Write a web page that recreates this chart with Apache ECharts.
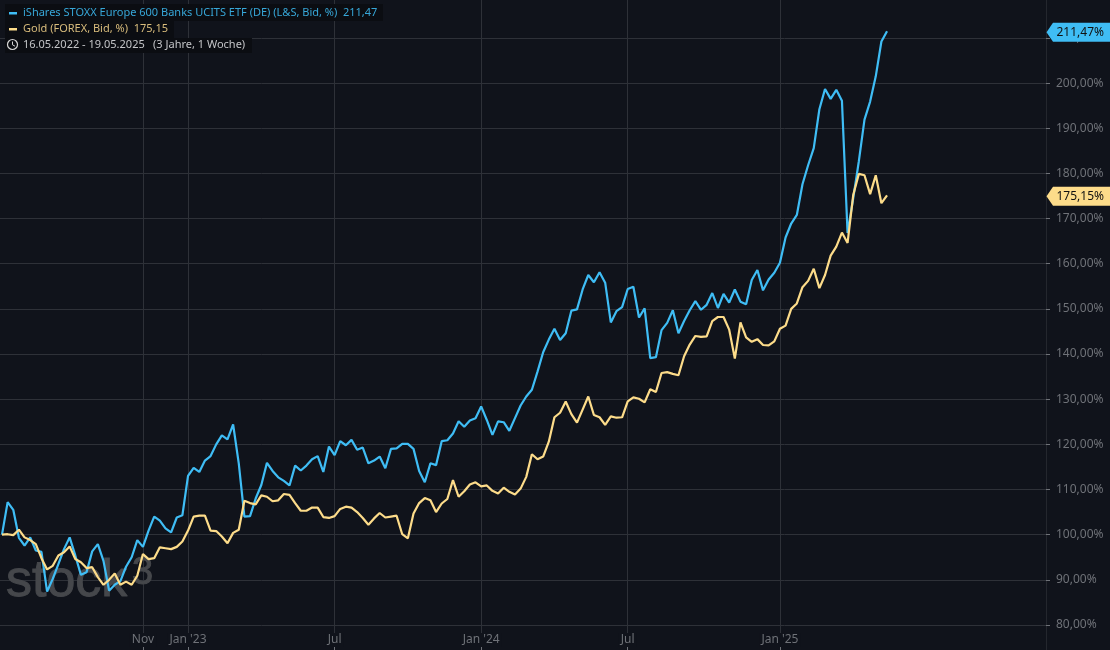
<!DOCTYPE html>
<html>
<head>
<meta charset="utf-8">
<title>iShares STOXX Europe 600 Banks vs Gold</title>
<style>
  html, body { margin: 0; padding: 0; background: #10131b; }
  #chart { width: 1110px; height: 650px; }
</style>
<script src="https://cdn.jsdelivr.net/npm/echarts@6/dist/echarts.min.js"></script>
</head>
<body>
<div id="chart"></div>
<script>
// weekly closes in %, 16.05.2022 = 100, week 0 .. week 157
const banksValues = [
  100, 107.2, 105.5, 99.3, 97.6, 99.4, 96.5, 96.2, 87.4, 90.2,
  93.5, 96.8, 99.4, 95.4, 91.1, 91.7, 96.3, 97.9, 94.2, 87.6,
  88.9, 89.7, 92.9, 95, 98.8, 97.3, 100.9, 104, 103.1, 101.4,
  100.5, 103.8, 104.3, 113, 114.8, 113.9, 116.4, 117.4, 120, 122,
  121.1, 124.4, 115.8, 104, 104.1, 108, 111, 115.9, 114.1, 112.7,
  111.9, 110.9, 115.3, 114.2, 115.3, 116.7, 117.4, 113.9, 119.5, 117.6,
  120.7, 119.8, 121, 118.8, 119.3, 115.8, 116.4, 117.3, 114.7, 119,
  119.1, 120.1, 120.1, 119, 114.1, 111.6, 115.8, 115.4, 120.7, 120.9,
  122.4, 125.1, 123.9, 125.3, 125.8, 128.4, 125.4, 122.1, 125.1, 124.9,
  123, 125.8, 128.6, 130.6, 132.1, 136.1, 140.4, 143.2, 145.6, 143.1,
  144.6, 149.6, 149.9, 154.3, 157.5, 155.9, 158.1, 155.8, 147, 149.5,
  150.4, 154.4, 154.9, 148.1, 150.1, 139.1, 139.3, 145.3, 146.9, 149.7,
  144.6, 147.3, 149.7, 151.7, 149.8, 150.9, 153.5, 150.2, 153.3, 151.4,
  154.3, 151.6, 151, 156.4, 158.6, 154.1, 156.5, 158, 160.2, 165.8,
  168.9, 170.8, 177.6, 181.8, 185.6, 194.2, 198.7, 196.5, 198.5, 196.1,
  166.8, 174.5, 182.7, 191.9, 195.9, 201.5, 209.2, 211.47
];
const goldValues = [
  100, 100.1, 99.9, 101.1, 99.4, 98.8, 97.9, 94.8, 92.3, 93.1,
  95.4, 96.1, 97.4, 94.6, 93.9, 92.6, 92.8, 90.6, 88.9, 90,
  91.4, 88.9, 89.6, 88.9, 90.9, 95.7, 94.6, 94.8, 97.2, 97,
  96.8, 97.3, 98.5, 100.9, 104, 104.2, 104.2, 100.9, 100.8, 99.6,
  98.1, 100.4, 101.1, 107.5, 107, 106.7, 108.7, 108.4, 107.4, 107.6,
  109, 108.8, 107, 105.3, 105.3, 106, 106, 103.9, 103.7, 104.1,
  105.7, 106.2, 106, 105, 103.7, 102.2, 103.6, 104.8, 103.8, 104,
  104.2, 100.1, 99.2, 104.7, 107, 108.1, 107.6, 105, 106.9, 107.9,
  112.1, 108.4, 109.6, 111.1, 111.6, 110.7, 110.9, 109.7, 109.1, 110.4,
  109.5, 108.9, 110.2, 112.8, 117.8, 116.7, 117.3, 120.6, 126, 127,
  129.5, 126.7, 124.8, 127.7, 130.6, 126.5, 126, 124.3, 126.2, 125.9,
  126, 129.5, 130.4, 130.1, 129.3, 132.2, 131.6, 135.8, 136, 135.6,
  135.3, 139.5, 142.1, 144, 143.8, 143.9, 147.3, 148.2, 148.2, 145.4,
  139, 147, 143.7, 142.7, 143.3, 142, 141.9, 142.8, 145.6, 146.3,
  150, 151.2, 154.8, 156.2, 158.9, 154.6, 157.5, 161.8, 163.8, 166.9,
  164.6, 175.2, 179.9, 179.6, 175.4, 179.6, 173.4, 175.15
];
const yTicks = [80, 90, 100, 110, 120, 130, 140, 150, 160, 170, 180, 190, 200, 210];
const tickWeeks = [25, 33, 59, 85, 111, 138];
const tickLabels = ['Nov', "Jan '23", 'Jul', "Jan '24", 'Jul', "Jan '25"];

const bg = '#10131b';
const gridColor = '#2e3138';
const blue = '#3fbdf5';
const gold = '#fddc8a';
const markColor = '#45474b';
const uiFont = '"Noto Sans", sans-serif';

const fmt = v => v.toFixed(2).replace('.', ',');
const toPairs = arr => arr.map((v, i) => [i, v]);

const chart = echarts.init(document.getElementById('chart'));

chart.setOption({
  backgroundColor: bg,
  animation: false,
  grid: { left: 0, right: 64, top: 0, bottom: 0 },
  xAxis: {
    type: 'value',
    min: -0.355,
    max: 185.2,
    axisLine: { show: false },
    axisTick: { customValues: tickWeeks, inside: true, length: 3, lineStyle: { color: '#6f7278' } },
    splitLine: { show: true, lineStyle: { color: gridColor, width: 1 } },
    axisLabel: {
      customValues: tickWeeks,
      inside: true,
      margin: 3,
      color: '#6f7278',
      fontFamily: uiFont,
      fontSize: 12,
      backgroundColor: bg,
      padding: [1, 2, 1, 2],
      hideOverlap: false,
      formatter: v => tickLabels[tickWeeks.indexOf(v)]
    }
  },
  yAxis: {
    type: 'value',
    position: 'right',
    min: 74.46,
    max: 218.4,
    axisLine: { show: true, onZero: false, lineStyle: { color: '#24272e' } },
    axisTick: { show: true, customValues: yTicks, length: 4, lineStyle: { color: '#6f7278' } },
    splitLine: { show: true, lineStyle: { color: gridColor, width: 1 } },
    axisLabel: {
      customValues: yTicks,
      margin: 10,
      color: '#6f7278',
      fontFamily: uiFont,
      fontSize: 12,
      formatter: v => fmt(v) + '%'
    }
  },
  series: [
    { name: 'iShares STOXX Europe 600 Banks UCITS ETF (DE)', type: 'line', showSymbol: false, z: 3,
      lineStyle: { color: blue, width: 2.2 }, data: toPairs(banksValues) },
    { name: 'Gold', type: 'line', showSymbol: false, z: 4,
      lineStyle: { color: gold, width: 2.2 }, data: toPairs(goldValues) }
  ]
});

// price tag on the right axis, placed from the series' last value
function priceTag(value, color) {
  const y = chart.convertToPixel({ yAxisIndex: 0 }, value) + 1;
  return [
    { type: 'polygon', z: 50, silent: true,
      shape: { points: [[1046.5, y], [1053, y - 9.5], [1110, y - 9.5], [1110, y + 9.5], [1053, y + 9.5]] },
      style: { fill: color } },
    { type: 'text', z: 51, silent: true, x: 1104, y: y,
      style: { text: fmt(value) + '%', fill: '#111', font: '12px ' + uiFont, textAlign: 'right', textVerticalAlign: 'middle' } }
  ];
}

function legendRow(width, top, height) {
  return { type: 'rect', z: 20, silent: true, shape: { x: 5, y: top, width: width, height: height }, style: { fill: '#0b0d12' } };
}

function legendText(label, y, color) {
  return { type: 'text', z: 21, silent: true, x: 23, y: y,
    style: { text: label, fill: color, font: '11px ' + uiFont, textVerticalAlign: 'middle' } };
}

const lastBanks = banksValues[banksValues.length - 1];
const lastGold = goldValues[goldValues.length - 1];

chart.setOption({
  graphic: [
    // watermark
    { type: 'text', z: 1, silent: true, x: 6, y: 608,
      style: { text: 'stock', fill: markColor, stroke: markColor, lineWidth: 1, font: '52px "Liberation Sans", sans-serif', textVerticalAlign: 'bottom' } },
    { type: 'text', z: 1, silent: true, x: 132, y: 593,
      style: { text: '3', fill: markColor, stroke: markColor, lineWidth: 1, font: '38px "Liberation Sans", sans-serif', textVerticalAlign: 'bottom' } },
    // legend block
    legendRow(378, 4, 17),
    legendRow(169, 21, 17),
    legendRow(247, 38, 15),
    { type: 'rect', z: 21, silent: true, shape: { x: 9, y: 12, width: 8, height: 2.5 }, style: { fill: blue } },
    { type: 'rect', z: 21, silent: true, shape: { x: 9, y: 28, width: 8, height: 2.5 }, style: { fill: gold } },
    legendText('iShares STOXX Europe 600 Banks UCITS ETF (DE) (L&S, Bid, %)  ' + fmt(lastBanks), 13, '#37a7d8'),
    legendText('Gold (FOREX, Bid, %)  ' + fmt(lastGold), 29, '#d8bc7c'),
    legendText('16.05.2022 - 19.05.2025', 45, '#c4c5c8'),
    { type: 'text', z: 21, silent: true, x: 153, y: 45,
      style: { text: '(3 Jahre, 1 Woche)', fill: '#c4c5c8', font: '11px ' + uiFont, textVerticalAlign: 'middle' } },
    { type: 'circle', z: 21, silent: true, shape: { cx: 12.5, cy: 44.5, r: 5 }, style: { fill: 'none', stroke: '#d8d8d8', lineWidth: 1.2 } },
    { type: 'polyline', z: 21, silent: true, shape: { points: [[12.5, 41.5], [12.5, 44.8], [15, 46.2]] }, style: { fill: 'none', stroke: '#d8d8d8', lineWidth: 1 } },
    ...priceTag(lastBanks, blue),
    ...priceTag(lastGold, gold)
  ]
});
</script>
</body>
</html>
